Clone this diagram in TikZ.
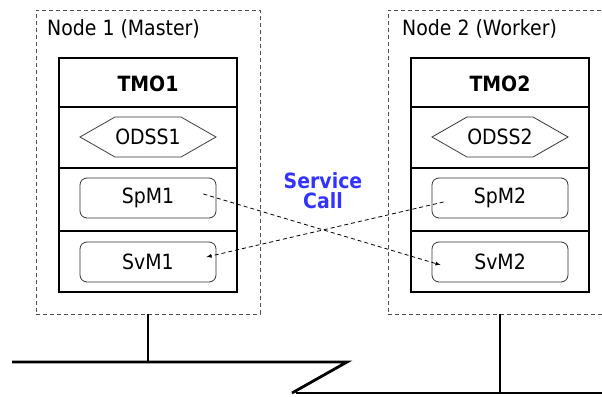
\documentclass[tikz,border=0pt]{standalone}
\usepackage{fontspec}
\setmainfont{DejaVu Sans}[FakeStretch=0.9]
\definecolor{callblue}{RGB}{51,51,255}

\begin{document}
\begin{tikzpicture}[x = 1pt, y = -1pt, font = \fontsize{21}{21}\selectfont,
    hostbox/.style = {draw = black!70, dash pattern = on 4pt off 3pt, line width = 0.8pt,
      minimum width = 224pt, minimum height = 304pt, inner sep = 0pt},
    tmoframe/.style = {line width = 2.6pt},
    rowline/.style = {line width = 1.3pt},
    hexline/.style = {draw = black!80, line width = 0.8pt},
    module/.style = {draw = black!80, rounded corners = 7pt, line width = 0.8pt,
      minimum width = 136pt, minimum height = 40pt, inner sep = 0pt},
    call/.style = {dash pattern = on 4pt off 3pt, line width = 0.8pt, -latex},
    bus/.style = {line width = 2.8pt}]
  \useasboundingbox (0, 0) rectangle (602, 396);

  % node 1
  \node [hostbox] (host1) at (148, 162) {};
  \node [anchor = base west, inner sep = 0pt] (lab1) at (47, 36) {Node 1 (Master)};
  \draw [tmoframe] (59, 58) rectangle (237, 292);
  \draw [rowline] (59, 107) -- (237, 107);
  \draw [rowline] (59, 168) -- (237, 168);
  \draw [rowline] (59, 231) -- (237, 231);
  \node [anchor = base, font = \fontsize{21}{21}\selectfont\bfseries] (tmo1) at (148, 92) {TMO1};
  \node (odss1) at (148, 137) {ODSS1};
  \draw [hexline] (odss1.center) ++(-68, 0) -- ++(35, -20) -- ++(66, 0) -- ++(35, 20)
    -- ++(-35, 20) -- ++(-66, 0) -- cycle;
  \node [module] (spm1) at (148, 198) {SpM1};
  \node [module] (svm1) at (148, 262) {SvM1};

  % node 2
  \node [hostbox] (host2) at (500, 162) {};
  \node [anchor = base west, inner sep = 0pt] (lab2) at (402, 36) {Node 2 (Worker)};
  \draw [tmoframe] (411, 58) rectangle (589, 292);
  \draw [rowline] (411, 107) -- (589, 107);
  \draw [rowline] (411, 168) -- (589, 168);
  \draw [rowline] (411, 231) -- (589, 231);
  \node [anchor = base, font = \fontsize{21}{21}\selectfont\bfseries] (tmo2) at (500, 92) {TMO2};
  \node (odss2) at (500, 137) {ODSS2};
  \draw [hexline] (odss2.center) ++(-68, 0) -- ++(35, -20) -- ++(66, 0) -- ++(35, 20)
    -- ++(-35, 20) -- ++(-66, 0) -- cycle;
  \node [module] (spm2) at (500, 198) {SpM2};
  \node [module] (svm2) at (500, 262) {SvM2};

  % service calls
  \node [align = center, text = callblue, font = \fontsize{21}{20}\selectfont\bfseries] (svc) at (323, 191) {Service\\Call};
  \draw [call] ([xshift = -13pt, yshift = 4pt] spm1.east) -- ([xshift = 9pt, yshift = -3pt] svm2.west);
  \draw [call] ([xshift = 12pt, yshift = -4pt] spm2.west) -- ([xshift = -10pt, yshift = 5pt] svm1.east);

  % network
  \coordinate (bend1) at (347, 362);
  \coordinate (bend2) at (292, 393);
  \draw [bus] (12, 362) -- (bend1) -- (bend2);
  \draw [bus] (296, 393) -- (602, 393);
  \draw [bus] (host1.south) -- (host1.south |- bend1);
  \draw [bus] (host2.south) -- (host2.south |- bend2);
\end{tikzpicture}
\end{document}
